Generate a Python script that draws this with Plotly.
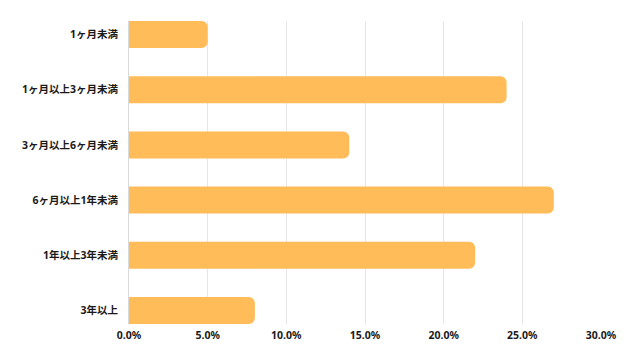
import plotly.graph_objects as go

categories = ["1ヶ月未満", "1ヶ月以上3ヶ月未満", "3ヶ月以上6ヶ月未満", "6ヶ月以上1年未満", "1年以上3年未満", "3年以上"]
values = [5, 24, 14, 27, 22, 8]
tick_vals = [0, 5, 10, 15, 20, 25, 30]
tick_text = ["0.0%", "5.0%", "10.0%", "15.0%", "20.0%", "25.0%", "30.0%"]

font_family = "Noto Sans, Noto Sans CJK JP, sans-serif"

fig = go.Figure(go.Bar(
    x=values,
    y=categories,
    orientation="h",
    marker=dict(color="#FFBC58", line=dict(width=0), cornerradius=6),
    width=0.49,
    hoverinfo="skip",
))

# page body has an 8px default margin, so the figure is sized to fill the rest of the window
fig.update_layout(
    width=632, height=352,
    margin=dict(l=121, r=39, t=13, b=36),
    paper_bgcolor="white",
    plot_bgcolor="white",
    showlegend=False,
    font=dict(family=font_family, color="#222222", size=10),
)

fig.update_xaxes(
    range=[0, 30],
    tickvals=tick_vals,
    ticktext=tick_text,
    showgrid=True,
    gridcolor="#E6E6E6",
    gridwidth=1,
    zeroline=False,
    showline=False,
    ticks="",
    ticklabelstandoff=3,
    tickfont=dict(family=font_family, size=10.5, color="#1A1A1A", weight="bold"),
    fixedrange=True,
)

fig.update_yaxes(
    categoryorder="array",
    categoryarray=categories,
    range=[5.245, -0.245],
    showgrid=False,
    zeroline=False,
    showline=True,
    linecolor="#D9D9D9",
    linewidth=1,
    ticks="",
    ticklabelstandoff=8,
    tickfont=dict(family=font_family, size=10.5, color="#1A1A1A", weight="bold"),
    fixedrange=True,
)

fig.write_html("out.html")
